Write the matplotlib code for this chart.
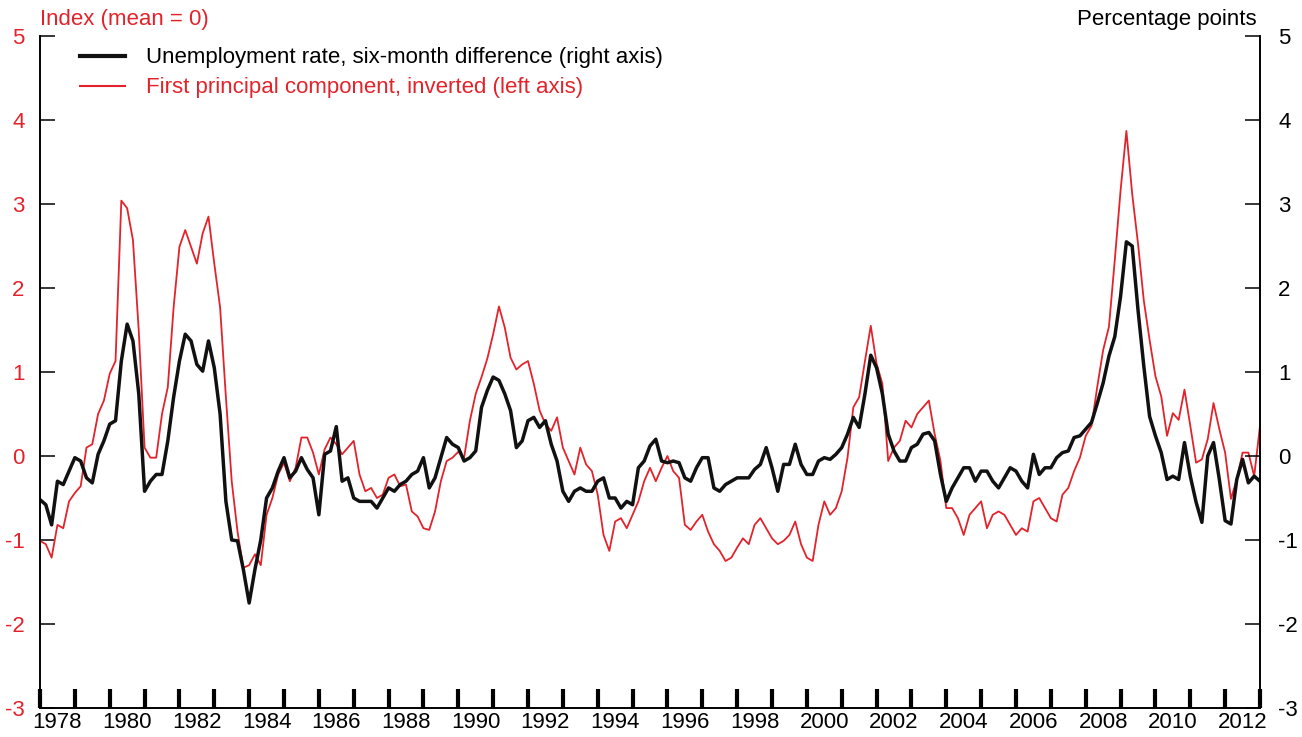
import numpy as np
import matplotlib.pyplot as plt
from matplotlib.lines import Line2D

plt.rcParams['font.family'] = ['Liberation Sans Narrow', 'Liberation Sans', 'DejaVu Sans']
plt.rcParams['axes.unicode_minus'] = False

RED = '#e3232b'

# bimonthly readings, Jan 1978 .. Jan 2013
start_year = 1978
unemp_diff = [
    -0.52, -0.58, -0.82, -0.30, -0.34, -0.18,   # 1978
    -0.02, -0.06, -0.26, -0.32, 0.02, 0.18,     # 1979
    0.38, 0.42, 1.13, 1.57, 1.37, 0.74,         # 1980
    -0.42, -0.30, -0.22, -0.22, 0.18, 0.70,     # 1981
    1.13, 1.45, 1.37, 1.09, 1.01, 1.37,         # 1982
    1.05, 0.50, -0.54, -1.00, -1.01, -1.35,     # 1983
    -1.75, -1.35, -1.00, -0.50, -0.38, -0.18,   # 1984
    -0.02, -0.26, -0.18, -0.02, -0.16, -0.26,   # 1985
    -0.70, 0.02, 0.06, 0.35, -0.30, -0.26,      # 1986
    -0.50, -0.54, -0.54, -0.54, -0.62, -0.50,   # 1987
    -0.38, -0.42, -0.34, -0.30, -0.22, -0.18,   # 1988
    -0.02, -0.38, -0.26, -0.02, 0.22, 0.14,     # 1989
    0.10, -0.06, -0.02, 0.06, 0.58, 0.78,       # 1990
    0.94, 0.90, 0.74, 0.54, 0.10, 0.18,         # 1991
    0.42, 0.46, 0.34, 0.42, 0.14, -0.06,        # 1992
    -0.42, -0.54, -0.42, -0.38, -0.42, -0.42,   # 1993
    -0.30, -0.26, -0.50, -0.50, -0.62, -0.54,   # 1994
    -0.58, -0.14, -0.06, 0.12, 0.20, -0.06,     # 1995
    -0.08, -0.06, -0.08, -0.26, -0.30, -0.14,   # 1996
    -0.02, -0.02, -0.38, -0.42, -0.34, -0.30,   # 1997
    -0.26, -0.26, -0.26, -0.16, -0.10, 0.10,    # 1998
    -0.14, -0.42, -0.10, -0.10, 0.14, -0.10,    # 1999
    -0.22, -0.22, -0.06, -0.02, -0.04, 0.02,    # 2000
    0.10, 0.26, 0.46, 0.34, 0.74, 1.20,         # 2001
    1.05, 0.74, 0.26, 0.06, -0.06, -0.06,       # 2002
    0.10, 0.14, 0.26, 0.28, 0.18, -0.22,        # 2003
    -0.54, -0.38, -0.26, -0.14, -0.14, -0.30,   # 2004
    -0.18, -0.18, -0.30, -0.38, -0.26, -0.14,   # 2005
    -0.18, -0.30, -0.38, 0.02, -0.22, -0.14,    # 2006
    -0.14, -0.02, 0.04, 0.06, 0.22, 0.24,       # 2007
    0.32, 0.40, 0.63, 0.87, 1.19, 1.42,         # 2008
    1.90, 2.55, 2.50, 1.74, 1.07, 0.47,         # 2009
    0.24, 0.04, -0.28, -0.24, -0.28, 0.16,      # 2010
    -0.24, -0.55, -0.79, 0.00, 0.16, -0.28,     # 2011
    -0.77, -0.81, -0.28, -0.04, -0.32, -0.24,   # 2012
    -0.30,                                      # 2013
]
first_pc_inv = [
    -1.01, -1.05, -1.21, -0.82, -0.86, -0.54,   # 1978
    -0.44, -0.36, 0.10, 0.14, 0.50, 0.66,       # 1979
    0.98, 1.13, 3.04, 2.95, 2.57, 1.49,         # 1980
    0.10, -0.02, -0.02, 0.50, 0.82, 1.77,       # 1981
    2.49, 2.69, 2.49, 2.29, 2.65, 2.85,         # 1982
    2.29, 1.77, 0.70, -0.30, -0.90, -1.33,      # 1983
    -1.30, -1.17, -1.30, -0.70, -0.50, -0.22,   # 1984
    -0.08, -0.30, -0.14, 0.22, 0.22, 0.04,      # 1985
    -0.22, 0.08, 0.22, 0.14, 0.02, 0.10,        # 1986
    0.18, -0.22, -0.42, -0.38, -0.50, -0.46,    # 1987
    -0.26, -0.22, -0.36, -0.34, -0.66, -0.72,   # 1988
    -0.86, -0.88, -0.66, -0.30, -0.06, -0.02,   # 1989
    0.05, -0.02, 0.42, 0.74, 0.94, 1.16,        # 1990
    1.45, 1.78, 1.53, 1.17, 1.03, 1.09,         # 1991
    1.13, 0.86, 0.54, 0.38, 0.30, 0.46,         # 1992
    0.10, -0.06, -0.22, 0.10, -0.10, -0.18,     # 1993
    -0.46, -0.94, -1.13, -0.78, -0.74, -0.86,   # 1994
    -0.70, -0.54, -0.30, -0.14, -0.30, -0.14,   # 1995
    0.00, -0.18, -0.26, -0.82, -0.88, -0.78,    # 1996
    -0.70, -0.90, -1.05, -1.13, -1.25, -1.21,   # 1997
    -1.09, -0.98, -1.05, -0.82, -0.74, -0.86,   # 1998
    -0.98, -1.05, -1.01, -0.94, -0.78, -1.05,   # 1999
    -1.21, -1.25, -0.82, -0.54, -0.70, -0.62,   # 2000
    -0.42, -0.02, 0.58, 0.70, 1.13, 1.55,       # 2001
    1.10, 0.86, -0.06, 0.10, 0.18, 0.42,        # 2002
    0.34, 0.50, 0.58, 0.66, 0.26, -0.06,        # 2003
    -0.62, -0.62, -0.74, -0.94, -0.70, -0.62,   # 2004
    -0.54, -0.86, -0.70, -0.66, -0.70, -0.82,   # 2005
    -0.94, -0.86, -0.90, -0.54, -0.50, -0.62,   # 2006
    -0.74, -0.78, -0.46, -0.38, -0.18, -0.02,   # 2007
    0.24, 0.36, 0.83, 1.26, 1.54, 2.33,         # 2008
    3.16, 3.87, 3.12, 2.53, 1.85, 1.38,         # 2009
    0.95, 0.71, 0.24, 0.51, 0.43, 0.79,         # 2010
    0.36, -0.08, -0.04, 0.20, 0.63, 0.32,       # 2011
    0.04, -0.51, -0.28, 0.04, 0.04, -0.24,      # 2012
    0.36,                                       # 2013
]
year_labels = list(range(1978, 2013, 2))
y_ticks = list(range(-3, 6))

t = start_year + np.arange(len(unemp_diff)) / 6

fig = plt.figure(figsize=(13.02, 7.37), dpi=100)
ax = fig.add_axes([40 / 1302, 29 / 737, 1220 / 1302, 672 / 737])
ax2 = ax.twinx()

ax.plot(t, first_pc_inv, color=RED, lw=1.3)
ax2.plot(t, unemp_diff, color='#111111', lw=2.5)

for a in (ax, ax2):
    a.set_xlim(1978, 2013)
    a.set_ylim(-3, 5)
    a.set_yticks(y_ticks)
    a.spines['top'].set_visible(False)
    for s in ('left', 'right', 'bottom'):
        a.spines[s].set_linewidth(1.2)

ax.tick_params(axis='y', direction='in', length=11, width=1.1,
               labelcolor=RED, labelsize=16, pad=11)
ax2.tick_params(axis='y', direction='in', length=11, width=1.1,
                labelcolor='black', labelsize=16, pad=13)

# year ticks at each January, labels centred in the even years
ax.set_xticks(range(1978, 2014))
ax.set_xticklabels([])
ax.set_xticks([y + 0.5 for y in year_labels], minor=True)
ax.set_xticklabels([str(y) for y in year_labels], minor=True)
ax.tick_params(axis='x', which='major', direction='in', length=14, width=3)
ax.tick_params(axis='x', which='minor', length=0, labelsize=16, pad=3)

handles = [Line2D([], [], color='#111111', lw=3),
           Line2D([], [], color=RED, lw=1.5)]
labels = ['Unemployment rate, six-month difference (right axis)',
          'First principal component, inverted (left axis)']
ax2.legend(handles, labels, loc='upper left', bbox_to_anchor=(0.033, 0.983),
           frameon=False, fontsize=16, labelcolor=['black', RED],
           handlelength=2.0, handletextpad=0.95, labelspacing=0.4,
           borderpad=0, borderaxespad=0)

fig.text(40 / 1302, 1 - 19 / 737, 'Index (mean = 0)', color=RED,
         fontsize=16, ha='left', va='center')
fig.text(1257 / 1302, 1 - 19 / 737, 'Percentage points', color='black',
         fontsize=16, ha='right', va='center')

fig.savefig('out.png', dpi=100)
